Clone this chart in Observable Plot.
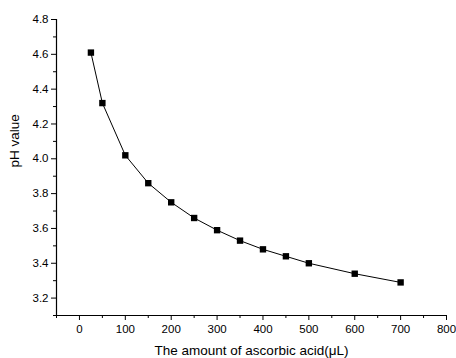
<!DOCTYPE html>
<html>
<head>
<meta charset="utf-8">
<script src="https://cdn.jsdelivr.net/npm/d3@7"></script>
<script src="https://cdn.jsdelivr.net/npm/@observablehq/plot@0.6"></script>
<style>
  html, body { margin: 0; padding: 0; background: #fff; }
  #chart svg { display: block; }
</style>
</head>
<body>
<div id="chart"></div>
<script>
const volume = [25, 50, 100, 150, 200, 250, 300, 350, 400, 450, 500, 600, 700];
const ph = [4.61, 4.32, 4.02, 3.86, 3.75, 3.66, 3.59, 3.53, 3.48, 3.44, 3.40, 3.34, 3.29];
const xTicks = [0, 100, 200, 300, 400, 500, 600, 700, 800];
const xMinorTicks = [-50, 50, 150, 250, 350, 450, 550, 650, 750];
const yTicks = [3.2, 3.4, 3.6, 3.8, 4.0, 4.2, 4.4, 4.6, 4.8];
const yMinorTicks = [3.1, 3.3, 3.5, 3.7, 3.9, 4.1, 4.3, 4.5, 4.7];

const data = volume.map((v, i) => ({x: v, y: ph[i]}));

const chart = Plot.plot({
  width: 456,
  height: 358,
  marginLeft: 56,
  marginRight: 10,
  marginTop: 19,
  marginBottom: 43,
  style: {fontFamily: "'Liberation Sans', Arial, sans-serif", fontSize: "11.5px", color: "#000", background: "#fff"},
  x: {domain: [-50, 800]},
  y: {domain: [3.1, 4.8]},
  marks: [
    Plot.axisX({ticks: xTicks, tickSize: 5, tickPadding: 4, tickFormat: d => String(d), label: null, fontSize: 11.5}),
    Plot.axisX({ticks: xMinorTicks, tickSize: 3, text: null, label: null}),
    Plot.axisY({ticks: yTicks, tickSize: 5, tickPadding: 3, tickFormat: d => d.toFixed(1), label: null, fontSize: 11.5}),
    Plot.axisY({ticks: yMinorTicks, tickSize: 3, text: null, label: null}),
    Plot.ruleX([-50], {stroke: "#000", strokeWidth: 1.2}),
    Plot.ruleY([3.1], {stroke: "#000", strokeWidth: 1.2}),
    Plot.line(data, {x: "x", y: "y", stroke: "#000", strokeWidth: 1}),
    Plot.dot(data, {x: "x", y: "y", symbol: "square", r: 3.6, fill: "#000", stroke: "none"}),
    Plot.text(["pH value"], {frameAnchor: "left", dx: -42, rotate: -90, fontSize: 13.5, text: d => d}),
    Plot.text(["The amount of ascorbic acid(μL)"], {frameAnchor: "bottom", dy: 39, fontSize: 13.5, text: d => d})
  ]
});
document.getElementById("chart").appendChild(chart);
</script>
</body>
</html>
